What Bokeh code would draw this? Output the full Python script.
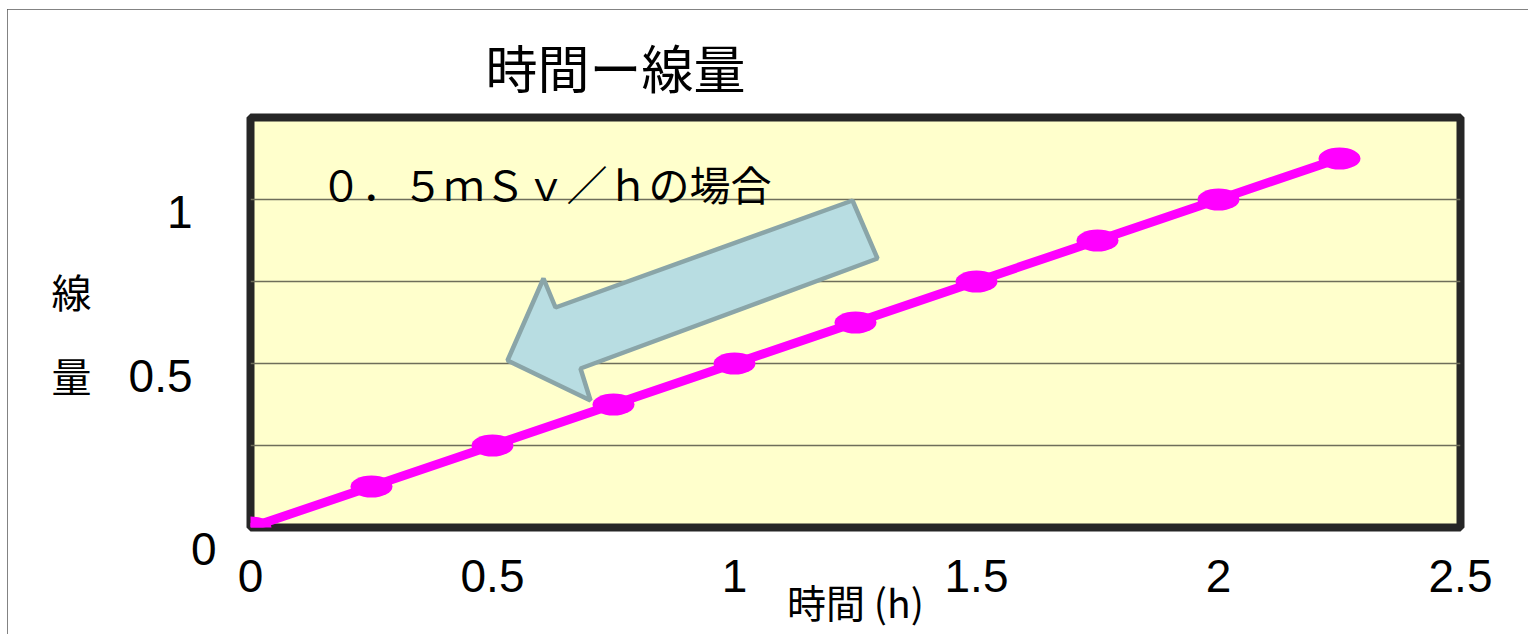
from bokeh.plotting import figure
from bokeh.models import Range1d, LinearAxis, FixedTicker, Grid, Label, PolyAnnotation
from bokeh.embed import file_html
from bokeh.resources import INLINE

# ---- data ----
hours = [0, 0.25, 0.5, 0.75, 1.0, 1.25, 1.5, 1.75, 2.0, 2.25]
dose = [0, 0.125, 0.25, 0.375, 0.5, 0.625, 0.75, 0.875, 1.0, 1.125]
x_ticks = [0, 0.5, 1, 1.5, 2, 2.5]
x_tick_labels = ["0", "0.5", "1", "1.5", "2", "2.5"]
y_ticks = [0.5, 1]
y_tick_labels = ["0.5", "1"]
y_zero_tick = [0]
y_zero_label = ["\n0"]
grid_ticks = [0.25, 0.5, 0.75, 1.0]
title_text = "時間ー線量"
note_text = "０．５ｍＳｖ／ｈの場合"
x_title = "時間 (h)"
y_title = "\n線\n\n\n\n量"

# ---- layout ----
W, H = 1521, 625
FL, FT, FW, FH = 243, 108, 1210, 410

CJK = "Noto Sans CJK JP"
NUM = "Liberation Sans"

p = figure(width=W, height=H, x_range=Range1d(0, 2.5), y_range=Range1d(0, 1.25),
           output_backend="svg", toolbar_location=None, y_axis_location=None,
           min_border_left=FL, min_border_right=W - FL - FW,
           min_border_top=FT, min_border_bottom=H - FT - FH)
p.styles = {"margin-left": "7px", "margin-top": "9px",
            "outline": "2px solid #5a5a5a", "outline-offset": "-2px"}
p.background_fill_color = "#ffffcc"
p.border_fill_color = "white"
p.outline_line_color = "#262626"
p.outline_line_width = 8
for g in p.xgrid:
    g.visible = False
for g in p.ygrid:
    g.visible = False

# title
p.title.text = title_text
p.title.align = "left"
p.title.offset = 235
p.title.text_font = CJK
p.title.text_font_size = "52px"
p.title.text_font_style = "normal"
p.title.text_color = "black"
p.title.standoff = 28

grid = Grid(dimension=1, ticker=FixedTicker(ticks=grid_ticks),
            grid_line_color="#6e6e5a", grid_line_width=1.5)
p.add_layout(grid)

# arrow (block arrow annotation)
arrow_px = [(852, 200), (877, 258), (580, 368), (590, 400), (507, 360), (543, 278), (555, 307)]
ax_ = [(px - 250) / 484.0 for px, py in arrow_px]
ay_ = [(527 - py) / 328.0 for px, py in arrow_px]
arrow = PolyAnnotation(xs=ax_, ys=ay_, fill_color="#b8dde2", fill_alpha=1.0,
                       line_color="#8aa5a8", line_alpha=1.0, line_width=4.5, level="underlay")
p.add_layout(arrow)

p.line(hours, dose, line_color="#ff00ff", line_width=9)
p.ellipse(x=hours, y=dose, width=42, height=22, width_units="screen", height_units="screen",
          fill_color="#ff00ff", line_color=None)


def style_axis(a, size="46px"):
    a.major_tick_line_color = None
    a.minor_tick_line_color = None
    a.axis_line_color = None
    a.major_label_text_font = NUM
    a.major_label_text_font_size = size
    a.major_label_text_color = "black"


# x axis
xa = p.xaxis[0]
xa.ticker = FixedTicker(ticks=x_ticks)
xa.major_label_overrides = {t: l for t, l in zip(x_ticks, x_tick_labels)}
style_axis(xa)
xa.major_label_standoff = 26
xa.axis_label = x_title
xa.axis_label_text_font = CJK
xa.axis_label_text_font_size = "39px"
xa.axis_label_text_font_style = "normal"
xa.axis_label_text_color = "black"
xa.axis_label_standoff = -22

# y axis "0" (closest to the frame, sits below the frame corner)
y0 = LinearAxis(ticker=FixedTicker(ticks=y_zero_tick))
y0.major_label_overrides = {t: l for t, l in zip(y_zero_tick, y_zero_label)}
style_axis(y0)
y0.major_label_standoff = 28
y0.major_label_text_line_height = 0.82
p.add_layout(y0, "left")

# y axis 0.5 / 1 on a slightly shifted range (labels sit a bit below their gridlines)
shift = 0.037
p.extra_y_ranges = {"lab": Range1d(shift, 1.25 + shift)}
ya = LinearAxis(y_range_name="lab", ticker=FixedTicker(ticks=y_ticks))
ya.major_label_overrides = {t: l for t, l in zip(y_ticks, y_tick_labels)}
style_axis(ya)
ya.major_label_standoff = -11
ya.axis_label = y_title
ya.axis_label_orientation = "horizontal"
ya.axis_label_text_font = CJK
ya.axis_label_text_font_size = "40px"
ya.axis_label_text_font_style = "normal"
ya.axis_label_text_color = "black"
ya.axis_label_text_line_height = 0.36
ya.axis_label_standoff = 34
p.add_layout(ya, "left")

# annotation text inside the plot area
p.add_layout(Label(x=320 - 250, y=527 - 182, x_units="screen", y_units="screen", text=note_text,
                   text_font=CJK, text_font_size="41px", text_color="black",
                   text_align="left", text_baseline="middle"))

open("out.html", "w").write(file_html(p, INLINE))
